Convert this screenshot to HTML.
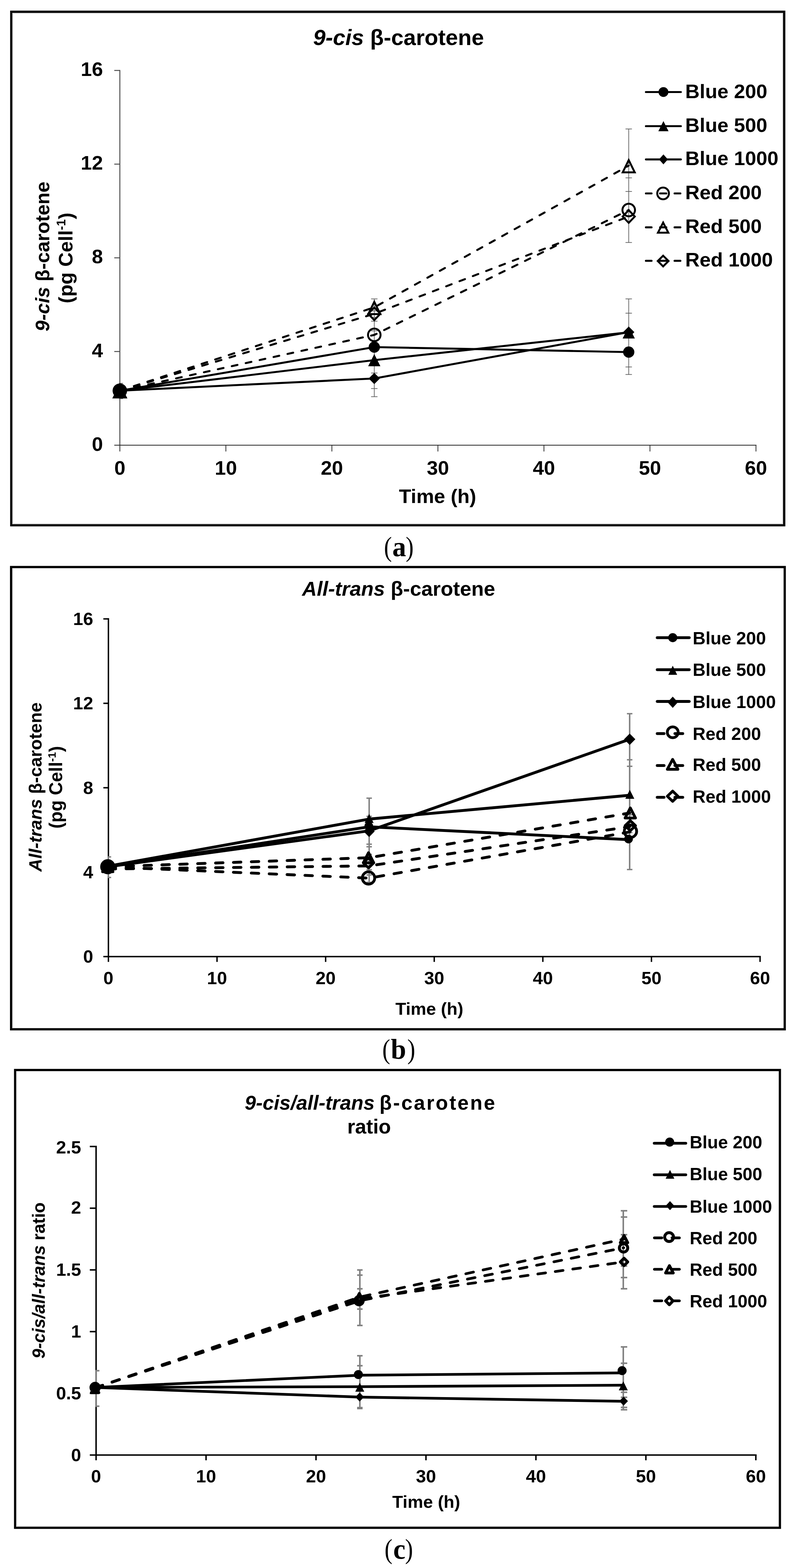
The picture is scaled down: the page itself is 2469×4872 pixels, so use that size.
<!DOCTYPE html>
<html lang="en">
<head>
<meta charset="utf-8">
<title>9-cis and all-trans β-carotene under blue and red light</title>
<style>
html,body{margin:0;padding:0;background:#fff;}
body{width:2469px;height:4872px;overflow:hidden;}
svg{display:block;}
text{white-space:pre;}
</style>
</head>
<body>
<svg width="2469" height="4872" viewBox="0 0 2469 4872">
<defs><filter id="soft" x="0" y="0" width="2469" height="1700" filterUnits="userSpaceOnUse"><feGaussianBlur stdDeviation="0.75"/></filter></defs>
<rect width="2469" height="4872" fill="#fff"/>
<g id="chart-a" filter="url(#soft)">
<rect x="35" y="36.5" width="2400.5" height="1595.5" fill="#fff" stroke="#000" stroke-width="7"/>
<rect x="38.5" y="40" width="2.5" height="1588.5" fill="#dcdcdc"/>
<rect x="38.5" y="40" width="2393.5" height="2.5" fill="#dcdcdc"/>
<rect x="2429.5" y="40" width="2.5" height="1588.5" fill="#dcdcdc"/>
<rect x="38.5" y="1626" width="2393.5" height="2.5" fill="#dcdcdc"/>
<g stroke="#484848" stroke-width="2.9" fill="none">
<path d="M372.2 217.45V1402.8"/>
<path d="M354.9 1383.3H2349.27" stroke="#2a2a2a" stroke-width="2.4"/>
<path d="M354.9 218.9H372.2"/>
<path d="M354.9 510H372.2"/>
<path d="M354.9 801.1H372.2"/>
<path d="M354.9 1092.2H372.2"/>
<path d="M701.47 1383.3V1402.8" stroke="#2a2a2a" stroke-width="2.4"/>
<path d="M1030.74 1383.3V1402.8" stroke="#2a2a2a" stroke-width="2.4"/>
<path d="M1360.01 1383.3V1402.8" stroke="#2a2a2a" stroke-width="2.4"/>
<path d="M1689.28 1383.3V1402.8" stroke="#2a2a2a" stroke-width="2.4"/>
<path d="M2018.55 1383.3V1402.8" stroke="#2a2a2a" stroke-width="2.4"/>
<path d="M2347.82 1383.3V1402.8" stroke="#2a2a2a" stroke-width="2.4"/>
</g>
<g font-family="'Liberation Sans',Arial,Helvetica,sans-serif" font-weight="bold" fill="#000">
<text x="319.8" y="236.2" font-size="62" text-anchor="end">16</text>
<text x="319.8" y="527.3" font-size="62" text-anchor="end">12</text>
<text x="319.8" y="818.4" font-size="62" text-anchor="end">8</text>
<text x="319.8" y="1109.5" font-size="62" text-anchor="end">4</text>
<text x="319.8" y="1400.6" font-size="62" text-anchor="end">0</text>
<text x="372.2" y="1475" font-size="62" text-anchor="middle">0</text>
<text x="701.47" y="1475" font-size="62" text-anchor="middle">10</text>
<text x="1030.74" y="1475" font-size="62" text-anchor="middle">20</text>
<text x="1360.01" y="1475" font-size="62" text-anchor="middle">30</text>
<text x="1689.28" y="1475" font-size="62" text-anchor="middle">40</text>
<text x="2018.55" y="1475" font-size="62" text-anchor="middle">50</text>
<text x="2347.82" y="1475" font-size="62" text-anchor="middle">60</text>
<text x="1359" y="1563" font-size="62" text-anchor="middle">Time (h)</text>
<text x="1237.8" y="139.7" font-size="69.2" text-anchor="middle"><tspan font-style="italic">9-cis</tspan> β-carotene</text>
<text x="153.2" y="797" font-size="60.7" text-anchor="middle" transform="rotate(-90 153.2 797)"><tspan font-style="italic">9-cis</tspan> β-carotene</text>
<text x="225.4" y="801.5" font-size="62" text-anchor="middle" transform="rotate(-90 225.4 801.5)">(pg Cell<tspan font-size="38" dy="-22">-1</tspan><tspan dy="22">)</tspan></text>
<text x="2128" y="304.6" font-size="62">Blue 200</text>
<text x="2128" y="409.6" font-size="62">Blue 500</text>
<text x="2128" y="512.6" font-size="62">Blue 1000</text>
<text x="2128" y="618.6" font-size="62">Red 200</text>
<text x="2128" y="724.3" font-size="62">Red 500</text>
<text x="2128" y="828" font-size="62">Red 1000</text>
</g>
<line x1="372.2" y1="1191" x2="372.2" y2="1238.7" stroke="#5c5c5c" stroke-width="2.1" stroke-linecap="butt"/>
<line x1="369.7" y1="1191" x2="382.2" y2="1191" stroke="#5c5c5c" stroke-width="2.1" stroke-linecap="butt"/>
<line x1="369.7" y1="1238.7" x2="382.2" y2="1238.7" stroke="#5c5c5c" stroke-width="2.1" stroke-linecap="butt"/>
<line x1="1162.4" y1="928.7" x2="1162.4" y2="1232.6" stroke="#5c5c5c" stroke-width="2.1" stroke-linecap="butt"/>
<line x1="1152.4" y1="928.7" x2="1172.4" y2="928.7" stroke="#5c5c5c" stroke-width="2.1" stroke-linecap="butt"/>
<line x1="1152.4" y1="966" x2="1172.4" y2="966" stroke="#5c5c5c" stroke-width="2.1" stroke-linecap="butt"/>
<line x1="1152.4" y1="986" x2="1172.4" y2="986" stroke="#5c5c5c" stroke-width="2.1" stroke-linecap="butt"/>
<line x1="1152.4" y1="998" x2="1172.4" y2="998" stroke="#5c5c5c" stroke-width="2.1" stroke-linecap="butt"/>
<line x1="1152.4" y1="1028" x2="1172.4" y2="1028" stroke="#5c5c5c" stroke-width="2.1" stroke-linecap="butt"/>
<line x1="1152.4" y1="1159" x2="1172.4" y2="1159" stroke="#5c5c5c" stroke-width="2.1" stroke-linecap="butt"/>
<line x1="1152.4" y1="1207.3" x2="1172.4" y2="1207.3" stroke="#5c5c5c" stroke-width="2.1" stroke-linecap="butt"/>
<line x1="1152.4" y1="1232.6" x2="1172.4" y2="1232.6" stroke="#5c5c5c" stroke-width="2.1" stroke-linecap="butt"/>
<line x1="1952.6" y1="400.7" x2="1952.6" y2="753.5" stroke="#5c5c5c" stroke-width="2.1" stroke-linecap="butt"/>
<line x1="1942.6" y1="400.7" x2="1962.6" y2="400.7" stroke="#5c5c5c" stroke-width="2.1" stroke-linecap="butt"/>
<line x1="1942.6" y1="552.6" x2="1962.6" y2="552.6" stroke="#5c5c5c" stroke-width="2.1" stroke-linecap="butt"/>
<line x1="1942.6" y1="594.9" x2="1962.6" y2="594.9" stroke="#5c5c5c" stroke-width="2.1" stroke-linecap="butt"/>
<line x1="1942.6" y1="753.5" x2="1962.6" y2="753.5" stroke="#5c5c5c" stroke-width="2.1" stroke-linecap="butt"/>
<line x1="1952.6" y1="928.7" x2="1952.6" y2="1163.6" stroke="#5c5c5c" stroke-width="2.1" stroke-linecap="butt"/>
<line x1="1942.6" y1="928.7" x2="1962.6" y2="928.7" stroke="#5c5c5c" stroke-width="2.1" stroke-linecap="butt"/>
<line x1="1942.6" y1="973.1" x2="1962.6" y2="973.1" stroke="#5c5c5c" stroke-width="2.1" stroke-linecap="butt"/>
<line x1="1942.6" y1="1140.2" x2="1962.6" y2="1140.2" stroke="#5c5c5c" stroke-width="2.1" stroke-linecap="butt"/>
<line x1="1942.6" y1="1163.6" x2="1962.6" y2="1163.6" stroke="#5c5c5c" stroke-width="2.1" stroke-linecap="butt"/>
<polyline points="372.2,1214 1162.4,1078.5 1952.6,1094" fill="none" stroke="#000" stroke-width="6.2" stroke-linecap="round" stroke-linejoin="round"/>
<polyline points="372.2,1214 1162.4,1119 1952.6,1032.7" fill="none" stroke="#000" stroke-width="6.2" stroke-linecap="round" stroke-linejoin="round"/>
<polyline points="372.2,1214 1162.4,1176 1952.6,1032" fill="none" stroke="#000" stroke-width="6.2" stroke-linecap="round" stroke-linejoin="round"/>
<polyline points="372.2,1214 1162.4,1040.6 1952.6,652.6" fill="none" stroke="#000" stroke-width="6.2" stroke-linecap="round" stroke-linejoin="round" stroke-dasharray="18 26.3" stroke-dashoffset="-1.5"/>
<polyline points="372.2,1214 1162.4,955 1952.6,514.6" fill="none" stroke="#000" stroke-width="6.2" stroke-linecap="round" stroke-linejoin="round" stroke-dasharray="18 26.3" stroke-dashoffset="-1.5"/>
<polyline points="372.2,1214 1162.4,975 1952.6,672.7" fill="none" stroke="#000" stroke-width="6.2" stroke-linecap="round" stroke-linejoin="round" stroke-dasharray="18 26.3" stroke-dashoffset="-1.5"/>
<polyline points="2006,286 2114.5,286" fill="none" stroke="#000" stroke-width="6.2" stroke-linecap="round" stroke-linejoin="round"/>
<polyline points="2006,392 2114.5,392" fill="none" stroke="#000" stroke-width="6.2" stroke-linecap="round" stroke-linejoin="round"/>
<polyline points="2006,495.3 2114.5,495.3" fill="none" stroke="#000" stroke-width="6.2" stroke-linecap="round" stroke-linejoin="round"/>
<polyline points="2006,601 2023.5,601" fill="none" stroke="#000" stroke-width="6.2" stroke-linecap="round" stroke-linejoin="round"/>
<polyline points="2050,601 2069.3,601" fill="none" stroke="#000" stroke-width="6.2" stroke-linecap="round" stroke-linejoin="round"/>
<polyline points="2095,601 2113,601" fill="none" stroke="#000" stroke-width="6.2" stroke-linecap="round" stroke-linejoin="round"/>
<polyline points="2006,706.4 2023.5,706.4" fill="none" stroke="#000" stroke-width="6.2" stroke-linecap="round" stroke-linejoin="round"/>
<polyline points="2050,706.4 2069.3,706.4" fill="none" stroke="#000" stroke-width="6.2" stroke-linecap="round" stroke-linejoin="round"/>
<polyline points="2095,706.4 2113,706.4" fill="none" stroke="#000" stroke-width="6.2" stroke-linecap="round" stroke-linejoin="round"/>
<polyline points="2006,810.4 2023.5,810.4" fill="none" stroke="#000" stroke-width="6.2" stroke-linecap="round" stroke-linejoin="round"/>
<polyline points="2050,810.4 2069.3,810.4" fill="none" stroke="#000" stroke-width="6.2" stroke-linecap="round" stroke-linejoin="round"/>
<polyline points="2095,810.4 2113,810.4" fill="none" stroke="#000" stroke-width="6.2" stroke-linecap="round" stroke-linejoin="round"/>
<circle cx="372.2" cy="1214" r="17.5" fill="#000"/>
<circle cx="1162.4" cy="1078.5" r="17.5" fill="#000"/>
<circle cx="1952.6" cy="1094" r="17.5" fill="#000"/>
<polygon points="372.2,1195 391.2,1233 353.2,1233" fill="#000"/>
<polygon points="1162.4,1100 1181.4,1138 1143.4,1138" fill="#000"/>
<polygon points="1952.6,1013.7 1971.6,1051.7 1933.6,1051.7" fill="#000"/>
<polygon points="372.2,1196.5 389.7,1214 372.2,1231.5 354.7,1214" fill="#000"/>
<polygon points="1162.4,1158.5 1179.9,1176 1162.4,1193.5 1144.9,1176" fill="#000"/>
<polygon points="1952.6,1014.5 1970.1,1032 1952.6,1049.5 1935.1,1032" fill="#000"/>
<circle cx="372.2" cy="1214" r="19.5" fill="none" stroke="#000" stroke-width="6"/>
<circle cx="1162.4" cy="1040.6" r="19.5" fill="none" stroke="#000" stroke-width="6"/>
<circle cx="1952.6" cy="652.6" r="19.5" fill="none" stroke="#000" stroke-width="6"/>
<polygon points="372.2,1196.82 390.89,1235 353.51,1235" fill="none" stroke="#000" stroke-width="6" stroke-linejoin="miter"/>
<polygon points="1162.4,937.82 1181.09,976 1143.71,976" fill="none" stroke="#000" stroke-width="6" stroke-linejoin="miter"/>
<polygon points="1952.6,497.42 1971.29,535.6 1933.91,535.6" fill="none" stroke="#000" stroke-width="6" stroke-linejoin="miter"/>
<polygon points="372.2,1194.24 390.96,1214 372.2,1233.76 353.44,1214" fill="none" stroke="#000" stroke-width="6" stroke-linejoin="miter"/>
<polygon points="1162.4,955.24 1181.16,975 1162.4,994.76 1143.64,975" fill="none" stroke="#000" stroke-width="6" stroke-linejoin="miter"/>
<polygon points="1952.6,652.94 1971.36,672.7 1952.6,692.46 1933.84,672.7" fill="none" stroke="#000" stroke-width="6" stroke-linejoin="miter"/>
<circle cx="2060.4" cy="286" r="15.35" fill="#000"/>
<polygon points="2060.4,376.3 2076.25,407.7 2044.55,407.7" fill="#000"/>
<polygon points="2060.4,479.8 2074.15,495.3 2060.4,510.8 2046.65,495.3" fill="#000"/>
<circle cx="2059.3" cy="601" r="18.15" fill="none" stroke="#000" stroke-width="6"/>
<polygon points="2059.5,691.68 2075.59,723.1 2043.41,723.1" fill="none" stroke="#000" stroke-width="6" stroke-linejoin="miter"/>
<polygon points="2059.5,794.54 2076.26,811.1 2059.5,827.66 2042.74,811.1" fill="none" stroke="#000" stroke-width="6" stroke-linejoin="miter"/>
</g>
<g id="chart-b">
<rect x="34.5" y="1761.9" width="2402.6" height="1436.2" fill="#fff" stroke="#000" stroke-width="7"/>
<rect x="38" y="1765.4" width="2.5" height="1429.2" fill="#e6e6e6"/>
<g stroke="#000" stroke-width="4.4" fill="none">
<path d="M336.7 1920.8V2988.8"/>
<path d="M321 2972.3H2362.7"/>
<path d="M321 1923H336.7"/>
<path d="M321 2185.32H336.7"/>
<path d="M321 2447.65H336.7"/>
<path d="M321 2709.98H336.7"/>
<path d="M674 2972.3V2988.8"/>
<path d="M1011.3 2972.3V2988.8"/>
<path d="M1348.6 2972.3V2988.8"/>
<path d="M1685.9 2972.3V2988.8"/>
<path d="M2023.2 2972.3V2988.8"/>
<path d="M2360.5 2972.3V2988.8"/>
</g>
<g font-family="'Liberation Sans',Arial,Helvetica,sans-serif" font-weight="bold" fill="#000">
<text x="289.3" y="1942.1" font-size="56" text-anchor="end">16</text>
<text x="289.3" y="2203.6" font-size="56" text-anchor="end">12</text>
<text x="289.3" y="2466.6" font-size="56" text-anchor="end">8</text>
<text x="289.3" y="2728.7" font-size="56" text-anchor="end">4</text>
<text x="289.3" y="2991.3" font-size="56" text-anchor="end">0</text>
<text x="336.7" y="3058" font-size="56" text-anchor="middle">0</text>
<text x="674" y="3058" font-size="56" text-anchor="middle">10</text>
<text x="1011.3" y="3058" font-size="56" text-anchor="middle">20</text>
<text x="1348.6" y="3058" font-size="56" text-anchor="middle">30</text>
<text x="1685.9" y="3058" font-size="56" text-anchor="middle">40</text>
<text x="2023.2" y="3058" font-size="56" text-anchor="middle">50</text>
<text x="2360.5" y="3058" font-size="56" text-anchor="middle">60</text>
<text x="1333.4" y="3153" font-size="54.5" text-anchor="middle">Time (h)</text>
<text x="1238" y="1851" font-size="63.5" text-anchor="middle"><tspan font-style="italic">All-trans</tspan> β-carotene</text>
<text x="128.7" y="2445.2" font-size="55.7" text-anchor="middle" transform="rotate(-90 128.7 2445.2)"><tspan font-style="italic">All-trans</tspan> β-carotene</text>
<text x="192.8" y="2446.2" font-size="56.6" text-anchor="middle" transform="rotate(-90 192.8 2446.2)">(pg Cell<tspan font-size="34" dy="-20">-1</tspan><tspan dy="20">)</tspan></text>
<text x="2151.3" y="2001.5" font-size="55.3">Blue 200</text>
<text x="2151.3" y="2100.2" font-size="55.3">Blue 500</text>
<text x="2151.3" y="2199.6" font-size="55.3">Blue 1000</text>
<text x="2151.3" y="2299.4" font-size="55.3">Red 200</text>
<text x="2151.3" y="2394.6" font-size="55.3">Red 500</text>
<text x="2151.3" y="2493.6" font-size="55.3">Red 1000</text>
</g>
<line x1="336.7" y1="2662.5" x2="336.7" y2="2726.4" stroke="#808080" stroke-width="4.6" stroke-linecap="butt"/>
<line x1="334.5" y1="2662.5" x2="345.2" y2="2662.5" stroke="#808080" stroke-width="4.2" stroke-linecap="butt"/>
<line x1="334.5" y1="2726.4" x2="345.2" y2="2726.4" stroke="#808080" stroke-width="4.2" stroke-linecap="butt"/>
<line x1="1146.5" y1="2480" x2="1146.5" y2="2741.6" stroke="#808080" stroke-width="4.6" stroke-linecap="butt"/>
<line x1="1138" y1="2480" x2="1155" y2="2480" stroke="#808080" stroke-width="4.2" stroke-linecap="butt"/>
<line x1="1138" y1="2536.6" x2="1155" y2="2536.6" stroke="#808080" stroke-width="4.2" stroke-linecap="butt"/>
<line x1="1138" y1="2623" x2="1155" y2="2623" stroke="#808080" stroke-width="4.2" stroke-linecap="butt"/>
<line x1="1138" y1="2631" x2="1155" y2="2631" stroke="#808080" stroke-width="4.2" stroke-linecap="butt"/>
<line x1="1138" y1="2654.7" x2="1155" y2="2654.7" stroke="#808080" stroke-width="4.2" stroke-linecap="butt"/>
<line x1="1138" y1="2702.5" x2="1155" y2="2702.5" stroke="#808080" stroke-width="4.2" stroke-linecap="butt"/>
<line x1="1138" y1="2718.6" x2="1155" y2="2718.6" stroke="#808080" stroke-width="4.2" stroke-linecap="butt"/>
<line x1="1138" y1="2741.6" x2="1155" y2="2741.6" stroke="#808080" stroke-width="4.2" stroke-linecap="butt"/>
<line x1="1955.5" y1="2217.5" x2="1955.5" y2="2701.8" stroke="#808080" stroke-width="4.6" stroke-linecap="butt"/>
<line x1="1947" y1="2217.5" x2="1964" y2="2217.5" stroke="#808080" stroke-width="4.2" stroke-linecap="butt"/>
<line x1="1947" y1="2360.7" x2="1964" y2="2360.7" stroke="#808080" stroke-width="4.2" stroke-linecap="butt"/>
<line x1="1947" y1="2381" x2="1964" y2="2381" stroke="#808080" stroke-width="4.2" stroke-linecap="butt"/>
<line x1="1947" y1="2531.5" x2="1964" y2="2531.5" stroke="#808080" stroke-width="4.2" stroke-linecap="butt"/>
<line x1="1947" y1="2586.7" x2="1964" y2="2586.7" stroke="#808080" stroke-width="4.2" stroke-linecap="butt"/>
<line x1="1947" y1="2701.8" x2="1964" y2="2701.8" stroke="#808080" stroke-width="4.2" stroke-linecap="butt"/>
<polyline points="336.7,2693 1146.3,2569 1955.6,2609" fill="none" stroke="#000" stroke-width="8.8" stroke-linecap="round" stroke-linejoin="round"/>
<polyline points="336.7,2691 1146.3,2545 1955.6,2471" fill="none" stroke="#000" stroke-width="8.8" stroke-linecap="round" stroke-linejoin="round"/>
<polyline points="336.7,2693 1146.3,2581.5 1955.6,2297" fill="none" stroke="#000" stroke-width="8.8" stroke-linecap="round" stroke-linejoin="round"/>
<polyline points="336.7,2693.5 1146.3,2728.5 1955.6,2585" fill="none" stroke="#000" stroke-width="8.8" stroke-linecap="round" stroke-linejoin="round" stroke-dasharray="23.2 32.4" stroke-dashoffset="0.7"/>
<polyline points="336.7,2693 1146.3,2665 1955.6,2526" fill="none" stroke="#000" stroke-width="8.8" stroke-linecap="round" stroke-linejoin="round" stroke-dasharray="23.2 32.4" stroke-dashoffset="0.7"/>
<polyline points="336.7,2700 1146.3,2690.5 1955.6,2568.5" fill="none" stroke="#000" stroke-width="8.8" stroke-linecap="round" stroke-linejoin="round" stroke-dasharray="23.2 32.4" stroke-dashoffset="0.7"/>
<polyline points="2041,1981.4 2140.6,1981.4" fill="none" stroke="#000" stroke-width="8.8" stroke-linecap="round" stroke-linejoin="round"/>
<polyline points="2041,2080.8 2140.6,2080.8" fill="none" stroke="#000" stroke-width="8.8" stroke-linecap="round" stroke-linejoin="round"/>
<polyline points="2041,2179.5 2140.6,2179.5" fill="none" stroke="#000" stroke-width="8.8" stroke-linecap="round" stroke-linejoin="round"/>
<polyline points="2041,2279.3 2062.4,2279.3" fill="none" stroke="#000" stroke-width="8.8" stroke-linecap="round" stroke-linejoin="round"/>
<polyline points="2096,2279.3 2120.5,2279.3" fill="none" stroke="#000" stroke-width="8.8" stroke-linecap="round" stroke-linejoin="round"/>
<polyline points="2041,2378.7 2062.4,2378.7" fill="none" stroke="#000" stroke-width="8.8" stroke-linecap="round" stroke-linejoin="round"/>
<polyline points="2096,2378.7 2120.5,2378.7" fill="none" stroke="#000" stroke-width="8.8" stroke-linecap="round" stroke-linejoin="round"/>
<polyline points="2041,2477.4 2062.4,2477.4" fill="none" stroke="#000" stroke-width="8.8" stroke-linecap="round" stroke-linejoin="round"/>
<polyline points="2096,2477.4 2120.5,2477.4" fill="none" stroke="#000" stroke-width="8.8" stroke-linecap="round" stroke-linejoin="round"/>
<circle cx="334.7" cy="2693" r="13.5" fill="#000"/>
<circle cx="1145.3" cy="2567" r="13.5" fill="#000"/>
<circle cx="1952" cy="2607" r="13.5" fill="#000"/>
<polygon points="334.7,2679 348.7,2707 320.7,2707" fill="#000"/>
<polygon points="1146.3,2529 1160.3,2557 1132.3,2557" fill="#000"/>
<polygon points="1956,2454 1970,2482 1942,2482" fill="#000"/>
<polygon points="334.7,2675.25 352.2,2693 334.7,2710.75 317.2,2693" fill="#000"/>
<polygon points="1146.3,2565.25 1163.8,2583 1146.3,2600.75 1128.8,2583" fill="#000"/>
<polygon points="1955.6,2279.25 1973.1,2297 1955.6,2314.75 1938.1,2297" fill="#000"/>
<circle cx="334.7" cy="2693" r="19.2" fill="none" stroke="#000" stroke-width="8.6"/>
<circle cx="1144.5" cy="2728" r="19.2" fill="none" stroke="#000" stroke-width="8.6"/>
<circle cx="1958" cy="2583" r="19.2" fill="none" stroke="#000" stroke-width="8.6"/>
<polygon points="334.7,2677.3 350.9,2708.7 318.5,2708.7" fill="none" stroke="#000" stroke-width="8.6" stroke-linejoin="round"/>
<polygon points="1144.5,2649.3 1160.7,2680.7 1128.3,2680.7" fill="none" stroke="#000" stroke-width="8.6" stroke-linejoin="round"/>
<polygon points="1957.5,2510.3 1973.7,2541.7 1941.3,2541.7" fill="none" stroke="#000" stroke-width="8.6" stroke-linejoin="round"/>
<polygon points="334.7,2677.3 350.9,2693 334.7,2708.7 318.5,2693" fill="none" stroke="#000" stroke-width="8.6" stroke-linejoin="round"/>
<polygon points="1144.5,2665.3 1160.7,2681 1144.5,2696.7 1128.3,2681" fill="none" stroke="#000" stroke-width="8.6" stroke-linejoin="round"/>
<polygon points="1957.5,2549.8 1973.7,2565.5 1957.5,2581.2 1941.3,2565.5" fill="none" stroke="#000" stroke-width="8.6" stroke-linejoin="round"/>
<circle cx="2089.3" cy="1981.4" r="14.1" fill="#000"/>
<polygon points="2089.3,2068.5 2103.05,2096.7 2075.55,2096.7" fill="#000"/>
<polygon points="2089.3,2164.5 2105.3,2182 2089.3,2199.5 2073.3,2182" fill="#000"/>
<circle cx="2089.3" cy="2275.3" r="16.85" fill="none" stroke="#000" stroke-width="8.6"/>
<polygon points="2089,2359.45 2105.5,2390.35 2072.5,2390.35" fill="none" stroke="#000" stroke-width="8.6" stroke-linejoin="round"/>
<polygon points="2089,2458.05 2105.5,2474 2089,2489.95 2072.5,2474" fill="none" stroke="#000" stroke-width="8.6" stroke-linejoin="round"/>
</g>
<g id="chart-c">
<rect x="47" y="3324.7" width="2375.1" height="1422.3" fill="#fff" stroke="#000" stroke-width="7"/>
<rect x="50.5" y="3328.2" width="2.5" height="1415.3" fill="#e6e6e6"/>
<rect x="50.5" y="4740.5" width="2368.1" height="3" fill="#e2e2e2"/>
<g stroke="#000" stroke-width="4.6" fill="none">
<path d="M298.4 3560V4537.3"/>
<path d="M278.9 4521H2349.7"/>
<path d="M278.9 3562.3H298.4"/>
<path d="M278.9 3754.04H298.4"/>
<path d="M278.9 3945.78H298.4"/>
<path d="M278.9 4137.52H298.4"/>
<path d="M278.9 4329.26H298.4"/>
<path d="M639.9 4521V4537.3"/>
<path d="M981.4 4521V4537.3"/>
<path d="M1322.9 4521V4537.3"/>
<path d="M1664.4 4521V4537.3"/>
<path d="M2005.9 4521V4537.3"/>
<path d="M2347.4 4521V4537.3"/>
</g>
<g font-family="'Liberation Sans',Arial,Helvetica,sans-serif" font-weight="bold" fill="#000">
<text x="252" y="3583.6" font-size="56" text-anchor="end">2.5</text>
<text x="252" y="3771.2" font-size="56" text-anchor="end">2</text>
<text x="252" y="3963.9" font-size="56" text-anchor="end">1.5</text>
<text x="252" y="4155.7" font-size="56" text-anchor="end">1</text>
<text x="252" y="4348" font-size="56" text-anchor="end">0.5</text>
<text x="252" y="4539.7" font-size="56" text-anchor="end">0</text>
<text x="298.4" y="4605.6" font-size="56" text-anchor="middle">0</text>
<text x="639.9" y="4605.6" font-size="56" text-anchor="middle">10</text>
<text x="981.4" y="4605.6" font-size="56" text-anchor="middle">20</text>
<text x="1322.9" y="4605.6" font-size="56" text-anchor="middle">30</text>
<text x="1664.4" y="4605.6" font-size="56" text-anchor="middle">40</text>
<text x="2005.9" y="4605.6" font-size="56" text-anchor="middle">50</text>
<text x="2347.4" y="4605.6" font-size="56" text-anchor="middle">60</text>
<text x="1323.8" y="4685" font-size="54.5" text-anchor="middle">Time (h)</text>
<text x="760" y="3447.5" font-size="62.6"><tspan font-style="italic">9-cis/all-trans</tspan></text>
<text x="1178.6" y="3447.5" font-size="62.6" letter-spacing="4.3">β-carotene</text>
<text x="1146.2" y="3522" font-size="62.6" text-anchor="middle">ratio</text>
<text x="139.2" y="3978.5" font-size="54.6" text-anchor="middle" transform="rotate(-90 139.2 3978.5)"><tspan font-style="italic">9-cis/all-trans</tspan> ratio</text>
<text x="2141.9" y="3568" font-size="54.8">Blue 200</text>
<text x="2141.9" y="3667" font-size="54.8">Blue 500</text>
<text x="2141.9" y="3768" font-size="54.8">Blue 1000</text>
<text x="2141.9" y="3865.7" font-size="54.8">Red 200</text>
<text x="2141.9" y="3964" font-size="54.8">Red 500</text>
<text x="2141.9" y="4062" font-size="54.8">Red 1000</text>
</g>
<line x1="298.7" y1="4259" x2="298.7" y2="4369.3" stroke="#808080" stroke-width="4.8" stroke-linecap="butt"/>
<line x1="296.4" y1="4259" x2="308.7" y2="4259" stroke="#808080" stroke-width="4.8" stroke-linecap="butt"/>
<line x1="296.4" y1="4369.3" x2="308.7" y2="4369.3" stroke="#808080" stroke-width="4.8" stroke-linecap="butt"/>
<line x1="1117.6" y1="3946" x2="1117.6" y2="4118.4" stroke="#808080" stroke-width="4.8" stroke-linecap="butt"/>
<line x1="1109.1" y1="3946" x2="1126.1" y2="3946" stroke="#808080" stroke-width="4.8" stroke-linecap="butt"/>
<line x1="1109.1" y1="3962" x2="1126.1" y2="3962" stroke="#808080" stroke-width="4.8" stroke-linecap="butt"/>
<line x1="1109.1" y1="4004.5" x2="1126.1" y2="4004.5" stroke="#808080" stroke-width="4.8" stroke-linecap="butt"/>
<line x1="1109.1" y1="4067.5" x2="1126.1" y2="4067.5" stroke="#808080" stroke-width="4.8" stroke-linecap="butt"/>
<line x1="1109.1" y1="4118.4" x2="1126.1" y2="4118.4" stroke="#808080" stroke-width="4.8" stroke-linecap="butt"/>
<line x1="1117.6" y1="4212.5" x2="1117.6" y2="4376" stroke="#808080" stroke-width="4.8" stroke-linecap="butt"/>
<line x1="1109.1" y1="4212.5" x2="1126.1" y2="4212.5" stroke="#808080" stroke-width="4.8" stroke-linecap="butt"/>
<line x1="1109.1" y1="4243.5" x2="1126.1" y2="4243.5" stroke="#808080" stroke-width="4.8" stroke-linecap="butt"/>
<line x1="1109.1" y1="4373.7" x2="1126.1" y2="4373.7" stroke="#808080" stroke-width="4.8" stroke-linecap="butt"/>
<line x1="1109.1" y1="4376.5" x2="1126.1" y2="4376.5" stroke="#808080" stroke-width="4.8" stroke-linecap="butt"/>
<line x1="1935.7" y1="3762" x2="1935.7" y2="4004.4" stroke="#808080" stroke-width="4.8" stroke-linecap="butt"/>
<line x1="1928" y1="3762" x2="1948" y2="3762" stroke="#808080" stroke-width="4.8" stroke-linecap="butt"/>
<line x1="1928" y1="3781.5" x2="1948" y2="3781.5" stroke="#808080" stroke-width="4.8" stroke-linecap="butt"/>
<line x1="1928" y1="3836.4" x2="1948" y2="3836.4" stroke="#808080" stroke-width="4.8" stroke-linecap="butt"/>
<line x1="1928" y1="3933.7" x2="1948" y2="3933.7" stroke="#808080" stroke-width="4.8" stroke-linecap="butt"/>
<line x1="1928" y1="3969.5" x2="1948" y2="3969.5" stroke="#808080" stroke-width="4.8" stroke-linecap="butt"/>
<line x1="1928" y1="4004.4" x2="1948" y2="4004.4" stroke="#808080" stroke-width="4.8" stroke-linecap="butt"/>
<line x1="1935.7" y1="4185" x2="1935.7" y2="4380.3" stroke="#808080" stroke-width="4.8" stroke-linecap="butt"/>
<line x1="1928" y1="4185" x2="1948" y2="4185" stroke="#808080" stroke-width="4.8" stroke-linecap="butt"/>
<line x1="1928" y1="4235.8" x2="1948" y2="4235.8" stroke="#808080" stroke-width="4.8" stroke-linecap="butt"/>
<line x1="1928" y1="4326" x2="1948" y2="4326" stroke="#808080" stroke-width="4.8" stroke-linecap="butt"/>
<line x1="1928" y1="4341.6" x2="1948" y2="4341.6" stroke="#808080" stroke-width="4.8" stroke-linecap="butt"/>
<line x1="1928" y1="4373" x2="1948" y2="4373" stroke="#808080" stroke-width="4.8" stroke-linecap="butt"/>
<line x1="1928" y1="4380.3" x2="1948" y2="4380.3" stroke="#808080" stroke-width="4.8" stroke-linecap="butt"/>
<polyline points="298.4,4311 1117.8,4273 1937,4265.7" fill="none" stroke="#000" stroke-width="8.4" stroke-linecap="round" stroke-linejoin="round"/>
<polyline points="298.4,4311 1117.8,4308.6 1937,4304" fill="none" stroke="#000" stroke-width="8.4" stroke-linecap="round" stroke-linejoin="round"/>
<polyline points="298.4,4311 1117.8,4341 1937,4354" fill="none" stroke="#000" stroke-width="8.4" stroke-linecap="round" stroke-linejoin="round"/>
<polyline points="298.4,4311 1117.8,4041.5 1937,3877" fill="none" stroke="#000" stroke-width="8.4" stroke-linecap="round" stroke-linejoin="round" stroke-dasharray="24.3 30.5" stroke-dashoffset="2.6"/>
<polyline points="298.4,4311 1117.8,4030 1937,3850" fill="none" stroke="#000" stroke-width="8.4" stroke-linecap="round" stroke-linejoin="round" stroke-dasharray="24.3 30.5" stroke-dashoffset="2.6"/>
<polyline points="298.4,4311 1117.8,4036 1937,3921" fill="none" stroke="#000" stroke-width="8.4" stroke-linecap="round" stroke-linejoin="round" stroke-dasharray="24.3 30.5" stroke-dashoffset="2.6"/>
<polyline points="2031.6,3552.3 2130,3552.3" fill="none" stroke="#000" stroke-width="8.4" stroke-linecap="round" stroke-linejoin="round"/>
<polyline points="2031.6,3650.2 2130,3650.2" fill="none" stroke="#000" stroke-width="8.4" stroke-linecap="round" stroke-linejoin="round"/>
<polyline points="2031.6,3748.6 2130,3748.6" fill="none" stroke="#000" stroke-width="8.4" stroke-linecap="round" stroke-linejoin="round"/>
<polyline points="2032.3,3846.3 2055.3,3846.3" fill="none" stroke="#000" stroke-width="8.4" stroke-linecap="round" stroke-linejoin="round"/>
<polyline points="2087,3846.3 2110,3846.3" fill="none" stroke="#000" stroke-width="8.4" stroke-linecap="round" stroke-linejoin="round"/>
<polyline points="2032.3,3943.9 2055.3,3943.9" fill="none" stroke="#000" stroke-width="8.4" stroke-linecap="round" stroke-linejoin="round"/>
<polyline points="2087,3943.9 2110,3943.9" fill="none" stroke="#000" stroke-width="8.4" stroke-linecap="round" stroke-linejoin="round"/>
<polyline points="2032.3,4041.9 2055.3,4041.9" fill="none" stroke="#000" stroke-width="8.4" stroke-linecap="round" stroke-linejoin="round"/>
<polyline points="2087,4041.9 2110,4041.9" fill="none" stroke="#000" stroke-width="8.4" stroke-linecap="round" stroke-linejoin="round"/>
<circle cx="295.4" cy="4311" r="14" fill="#000"/>
<circle cx="1113" cy="4271" r="14" fill="#000"/>
<circle cx="1932" cy="4258.8" r="14" fill="#000"/>
<polygon points="295.4,4303 309.4,4331 281.4,4331" fill="#000"/>
<polygon points="1117.3,4296.2 1131.3,4324.2 1103.3,4324.2" fill="#000"/>
<polygon points="1935.7,4292 1949.7,4320 1921.7,4320" fill="#000"/>
<polygon points="295.4,4297 308.9,4311 295.4,4325 281.9,4311" fill="#000"/>
<polygon points="1117,4326.8 1130.5,4340.8 1117,4354.8 1103.5,4340.8" fill="#000"/>
<polygon points="1936.7,4339.5 1950.2,4353.5 1936.7,4367.5 1923.2,4353.5" fill="#000"/>
<circle cx="295.4" cy="4311" r="13" fill="none" stroke="#000" stroke-width="9"/>
<circle cx="1115" cy="4041.5" r="13" fill="none" stroke="#000" stroke-width="9"/>
<circle cx="1936.5" cy="3877.5" r="13" fill="none" stroke="#000" stroke-width="9"/>
<polygon points="295.4,4304.75 306.9,4327.25 283.9,4327.25" fill="none" stroke="#000" stroke-width="9" stroke-linejoin="round"/>
<polygon points="1116,4018.75 1127.5,4041.25 1104.5,4041.25" fill="none" stroke="#000" stroke-width="9" stroke-linejoin="round"/>
<polygon points="1938,3838.75 1949.5,3861.25 1926.5,3861.25" fill="none" stroke="#000" stroke-width="9" stroke-linejoin="round"/>
<polygon points="295.4,4299.5 306.9,4311 295.4,4322.5 283.9,4311" fill="none" stroke="#000" stroke-width="9" stroke-linejoin="round"/>
<polygon points="1116,4028.5 1127.5,4040 1116,4051.5 1104.5,4040" fill="none" stroke="#000" stroke-width="9" stroke-linejoin="round"/>
<polygon points="1938,3909.5 1949.5,3921 1938,3932.5 1926.5,3921" fill="none" stroke="#000" stroke-width="9" stroke-linejoin="round"/>
<circle cx="2079.8" cy="3548.7" r="14.1" fill="#000"/>
<polygon points="2080.8,3635 2094.4,3662.6 2067.2,3662.6" fill="#000"/>
<polygon points="2080.8,3732 2093.55,3746.1 2080.8,3760.2 2068.05,3746.1" fill="#000"/>
<circle cx="2078" cy="3843.8" r="13.75" fill="none" stroke="#000" stroke-width="9"/>
<polygon points="2079,3932.5 2090.9,3955.3 2067.1,3955.3" fill="none" stroke="#000" stroke-width="9" stroke-linejoin="round"/>
<polygon points="2078.7,4030.2 2090.2,4042.1 2078.7,4054 2067.2,4042.1" fill="none" stroke="#000" stroke-width="9" stroke-linejoin="round"/>
</g>
<g font-family="'Liberation Serif','Times New Roman',serif" fill="#000">
<text font-size="86" transform="translate(1204.9 1727.6) scale(0.86 1)" text-anchor="middle" font-weight="normal">(</text>
<text font-size="89" transform="translate(1239.9 1728) scale(0.96 1)" text-anchor="middle" font-weight="bold">a</text>
<text font-size="86" transform="translate(1272.4 1727.6) scale(0.86 1)" text-anchor="middle" font-weight="normal">)</text>
<text font-size="86" transform="translate(1199.5 3289.4) scale(0.86 1)" text-anchor="middle" font-weight="normal">(</text>
<text font-size="89" transform="translate(1237.6 3290.3) scale(0.96 1)" text-anchor="middle" font-weight="bold">b</text>
<text font-size="86" transform="translate(1277.4 3289.4) scale(0.86 1)" text-anchor="middle" font-weight="normal">)</text>
<text font-size="86" transform="translate(1206.6 4841.7) scale(0.86 1)" text-anchor="middle" font-weight="normal">(</text>
<text font-size="89" transform="translate(1240.2 4842.5) scale(0.96 1)" text-anchor="middle" font-weight="bold">c</text>
<text font-size="86" transform="translate(1270.4 4841.7) scale(0.86 1)" text-anchor="middle" font-weight="normal">)</text>
</g>
</svg>
</body>
</html>
